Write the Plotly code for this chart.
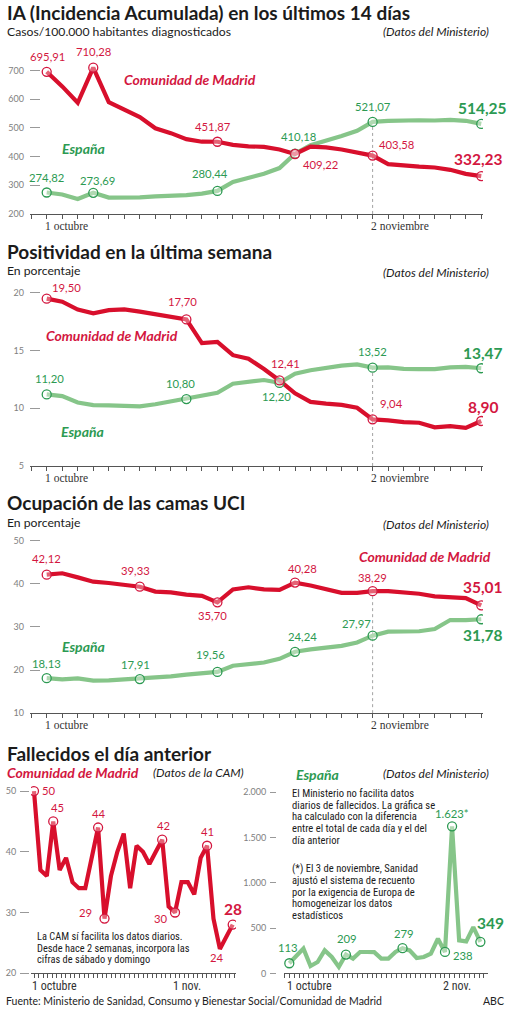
import plotly.graph_objects as go

W, H = 510, 1019

# ---------------- datos (días laborables desde el 1 de octubre) ----------------
# IA a 14 días, casos por 100.000 habitantes
ia_madrid = [695.91, 645, 588, 710.28, 590, 565, 538, 499, 482, 461, 452, 451.87, 441, 436,
             434, 425, 409.22, 435, 432, 425, 416, 403.58, 374, 368, 365, 362, 354, 340, 332.23]
ia_espana = [274.82, 268, 252, 273.69, 257, 257, 258, 261, 263, 266, 271, 280.44, 312, 325,
             340, 360, 410.18, 440, 455, 472, 490, 521.07, 525, 527, 527, 526, 528, 525, 514.25]
ia_madrid_marks = [0, 3, 11, 16, 21, 28]
ia_espana_marks = [0, 3, 11, 16, 21, 28]

# positividad en la última semana, %
pos_madrid = [19.50, 19.23, 18.55, 18.22, 18.5, 18.56, 18.37, 18.15, 18.0, 17.70, 15.65, 15.75,
              14.6, 14.3, 13.4, 12.41, 11.3, 10.55, 10.4, 10.3, 10.05, 9.04, 8.95, 8.8, 8.75,
              8.35, 8.45, 8.3, 8.90]
pos_espana = [11.20, 11.05, 10.5, 10.27, 10.26, 10.2, 10.17, 10.35, 10.62, 10.80, 11.15, 11.35,
              12.13, 12.3, 12.45, 12.20, 13.0, 13.3, 13.5, 13.7, 13.8, 13.52, 13.55, 13.42,
              13.40, 13.40, 13.55, 13.58, 13.47]
pos_madrid_marks = [0, 9, 15, 21, 28]
pos_espana_marks = [0, 9, 15, 21, 28]

# ocupación de camas UCI, %
uci_madrid = [42.12, 42.45, 41.5, 40.5, 40.2, 39.7, 39.33, 38.2, 38.0, 37.5, 37.2, 35.70, 38.7,
              39.2, 38.7, 38.6, 40.28, 39.6, 38.7, 37.9, 37.9, 38.29, 38.3, 38.1, 37.7, 37.1,
              36.9, 36.7, 35.01]
uci_espana = [18.13, 17.86, 18.05, 17.55, 17.6, 17.8, 17.91, 18.3, 18.55, 18.95, 19.3, 19.56,
              21.0, 21.3, 21.75, 22.6, 24.24, 24.8, 25.3, 25.6, 26.4, 27.97, 28.9, 29.0, 29.0,
              29.5, 31.6, 31.6, 31.78]
uci_madrid_marks = [0, 6, 11, 16, 21, 28]
uci_espana_marks = [0, 6, 11, 16, 21, 28]

# fallecidos el día anterior
fall_madrid = [50, 37, 36, 45, 37, 39, 35, 34, 34, 39, 44, 29, 36, 40, 43, 34, 41, 40, 38, 40,
               42, 31, 30, 35, 35, 33, 39, 41, 29, 24, 26, 28]
fall_espana = [113, 195, 274, 83, 127, 255, 182, 73, 209, 164, 237, 237, 235, 164, 164, 237,
               279, 255, 171, 182, 219, 383, 238, 1623, 365, 354, 511, 349]
fall_madrid_marks = [0, 3, 10, 11, 20, 22, 27, 31]
fall_espana_marks = [0, 8, 16, 22, 23, 27]

date_labels_top = ["1 octubre", "2 noviembre"]
date_idx_top = [0, 21]
date_labels_cam = ["1 octubre", "1 nov."]
date_labels_min = ["1 octubre", "2 nov."]
date_idx_bottom = [0, 22]

# ---------------- estilo ----------------
RED = "#d80f2c"
RED_TXT = "#d3173f"
GREEN = "#86c589"
GREEN_TXT = "#2c9a52"
INK = "#1b1b1b"
GREY = "#808080"
FONT = "Lato"
NARROW = "Liberation Sans Narrow, Roboto Condensed, Roboto"
SERIF = "Liberation Serif"

fig = go.Figure()


def ref(n):
    return "" if n == 1 else str(n)


def pax(p):
    return p / W


def pay(p):
    return 1 - p / H


def text(x, y, s, size, color=INK, family=FONT, anchor="left"):
    fig.add_annotation(x=pax(x), y=pay(y), xref="paper", yref="paper", text=s,
                       showarrow=False, xanchor=anchor, yanchor="middle",
                       font=dict(family=family, size=size, color=color))


def setup_axes(n, xdom, ydom, x0, xstep, ybase, ybase_px, yppu, yvals, ytext=None,
               xtick=1.0, free_pos=None, yticklen=10):
    k = ref(n)
    xr = [(xdom[0] - x0) / xstep, (xdom[1] - x0) / xstep]
    yr = [ybase + (ybase_px - ydom[1]) * 1.0 / yppu, ybase + (ybase_px - ydom[0]) / yppu]
    fig.layout["xaxis" + k] = dict(
        domain=[pax(xdom[0]), pax(xdom[1])], range=xr, anchor="y" + k,
        showline=True, linecolor="#555", linewidth=1, showgrid=False, zeroline=False,
        ticks="outside", tickmode="linear", tick0=0, dtick=xtick, ticklen=4,
        tickwidth=1, tickcolor="#555", showticklabels=False, fixedrange=True)
    yax = dict(
        domain=[pay(ydom[1]), pay(ydom[0])], range=yr, showline=False, showgrid=False,
        zeroline=False, tickmode="array", tickvals=yvals,
        ticktext=ytext if ytext else [str(v) for v in yvals],
        tickfont=dict(family=FONT, size=9, color=GREY), tickcolor="#999", tickwidth=1,
        fixedrange=True)
    if free_pos is None:
        yax.update(anchor="x" + k, ticks="inside", ticklen=yticklen, ticklabelstandoff=5)
    else:
        yax.update(anchor="free", position=pax(free_pos), ticks="outside", ticklen=yticklen,
                   ticklabelstandoff=2)
    fig.layout["yaxis" + k] = yax


def line(n, values, color):
    k = ref(n)
    fig.add_trace(go.Scatter(x=list(range(len(values))), y=values, mode="lines",
                             line=dict(color=color, width=4.2), xaxis="x" + k, yaxis="y" + k,
                             hoverinfo="skip", showlegend=False))


def marks(n, values, idx, color):
    k = ref(n)
    fig.add_trace(go.Scatter(x=idx, y=[values[i] for i in idx], mode="markers",
                             marker=dict(symbol="circle", size=9,
                                         color="rgba(255,255,255,0.35)",
                                         line=dict(color=color, width=1.3)),
                             xaxis="x" + k, yaxis="y" + k, hoverinfo="skip",
                             showlegend=False))


def guide(n, a, b, i, ymin):
    k = ref(n)
    fig.add_trace(go.Scatter(x=[i, i], y=[ymin, max(a[i], b[i])], mode="lines",
                             line=dict(color="#8a8a8a", width=0.8, dash="dot"),
                             xaxis="x" + k, yaxis="y" + k, hoverinfo="skip",
                             showlegend=False))


def fmt2(v):
    return f"{v:.2f}".replace(".", ",")


def fmt0(v):
    s = f"{int(v):,}".replace(",", ".")
    return s + "*" if v >= 1000 else s


def value_labels(n, values, spec, color, fmt):
    k = ref(n)
    for i, dx, dy, big in spec:
        fig.add_annotation(x=i, y=values[i], xref="x" + k, yref="y" + k, text=fmt(values[i]),
                           showarrow=False, xshift=dx, yshift=dy,
                           font=dict(family=FONT, size=15.5 if big else 11.3, color=color,
                                     weight="bold" if big else "normal"))


def date_labels(n, labels, idx, family, size):
    k = ref(n)
    for lab, i in zip(labels, idx):
        fig.add_annotation(x=i, y=0, xref="x" + k, yref="y" + k + " domain", text=lab,
                           showarrow=False, xanchor="left", yanchor="top", xshift=-4,
                           yshift=-4, font=dict(family=family, size=size, color="#333"))


def note(x, y0, lines, size, step):
    for j, s in enumerate(lines):
        text(x, y0 + step * j, s, size, family=NARROW)


# ---------------- panel 1: IA ----------------
setup_axes(1, (30, 483), (40, 215), 46.7, 15.52, 200, 215, 0.288, [200, 300, 400, 500, 600, 700])
guide(1, ia_madrid, ia_espana, 21, 200)
line(1, ia_espana, GREEN)
line(1, ia_madrid, RED)
marks(1, ia_espana, ia_espana_marks, GREEN_TXT)
marks(1, ia_madrid, ia_madrid_marks, RED_TXT)
value_labels(1, ia_madrid, [(0, 1, 15, False), (3, 0, 16, False), (11, -4, 15, False),
                            (16, 25, -11, False), (21, 24, 11, False), (28, -3, 17, True)],
             RED_TXT, fmt2)
value_labels(1, ia_espana, [(0, 0, 15, False), (3, 4, 12, False), (11, -7, 17, False),
                            (16, 3, 17, False), (21, 0, 15, False), (28, 1, 16, True)],
             GREEN_TXT, fmt2)
date_labels(1, date_labels_top, date_idx_top, SERIF, 11.5)
text(5, 13, "<b>IA (Incidencia Acumulada) en los últimos 14 días</b>", 19)
text(5, 32, "Casos/100.000 habitantes diagnosticados", 12.2)
text(491, 32, "<i>(Datos del Ministerio)</i>", 12, anchor="right")
text(190, 80, "<b><i>Comunidad de Madrid</i></b>", 14, RED_TXT, anchor="center")
text(83, 149, "<b><i>España</i></b>", 14, GREEN_TXT, anchor="center")

# ---------------- panel 2: positividad ----------------
setup_axes(2, (30, 483), (282, 468.3), 46.7, 15.52, 5, 468.3, 11.6, [5, 10, 15, 20])
guide(2, pos_madrid, pos_espana, 21, 5)
line(2, pos_espana, GREEN)
line(2, pos_madrid, RED)
marks(2, pos_espana, pos_espana_marks, GREEN_TXT)
marks(2, pos_madrid, pos_madrid_marks, RED_TXT)
value_labels(2, pos_madrid, [(0, 20, 11, False), (9, -4, 18, False), (15, 6, 17, False),
                             (21, 19, 16, False), (28, 2, 14, True)], RED_TXT, fmt2)
value_labels(2, pos_espana, [(0, 3, 16, False), (9, -6, 16, False), (15, -3, -14, False),
                             (21, 0, 16, False), (28, 2, 15, True)], GREEN_TXT, fmt2)
date_labels(2, date_labels_top, date_idx_top, SERIF, 11.5)
text(5, 253, "<b>Positividad en la última semana</b>", 19)
text(5, 272, "En porcentaje", 12.2)
text(491, 274, "<i>(Datos del Ministerio)</i>", 12, anchor="right")
text(112, 337, "<b><i>Comunidad de Madrid</i></b>", 14, RED_TXT, anchor="center")
text(82, 434, "<b><i>España</i></b>", 14, GREEN_TXT, anchor="center")

# ---------------- panel 3: UCI ----------------
setup_axes(3, (30, 483), (536, 716.7), 46.7, 15.52, 10, 716.7, 4.333, [10, 20, 30, 40, 50])
guide(3, uci_madrid, uci_espana, 21, 10)
line(3, uci_espana, GREEN)
line(3, uci_madrid, RED)
marks(3, uci_espana, uci_espana_marks, GREEN_TXT)
marks(3, uci_madrid, uci_madrid_marks, RED_TXT)
value_labels(3, uci_madrid, [(0, 0, 16, False), (6, -4, 16, False), (11, -5, -13, False),
                             (16, 7, 14, False), (21, 0, 14, False), (28, 2, 18, True)],
             RED_TXT, fmt2)
value_labels(3, uci_espana, [(0, 0, 15, False), (6, -4, 15, False), (11, -7, 17, False),
                             (16, 7, 15, False), (21, -16, 12, False), (28, 2, -16, True)],
             GREEN_TXT, fmt2)
date_labels(3, date_labels_top, date_idx_top, SERIF, 11.5)
text(5, 505, "<b>Ocupación de las camas UCI</b>", 19)
text(5, 525, "En porcentaje", 12.2)
text(491, 527, "<i>(Datos del Ministerio)</i>", 12, anchor="right")
text(425, 559, "<b><i>Comunidad de Madrid</i></b>", 14, RED_TXT, anchor="center")
text(83, 650, "<b><i>España</i></b>", 14, GREEN_TXT, anchor="center")

# ---------------- panel 4: fallecidos ----------------
setup_axes(4, (31, 236), (786, 978), 34, 6.41, 20, 978, 6.1, [20, 30, 40, 50],
           xtick=22 / 31, free_pos=29, yticklen=9)
line(4, fall_madrid, RED)
marks(4, fall_madrid, fall_madrid_marks, RED_TXT)
value_labels(4, fall_madrid, [(0, 15, 1, False), (3, 4, 14, False), (10, 1, 14, False),
                              (11, -19, 6, False), (20, 1, 14, False), (22, -14, -6, False),
                              (27, 0, 14, False), (29, -3, -9, False), (31, 0, 16, True)],
             RED_TXT, fmt0)
date_labels(4, date_labels_cam, date_idx_bottom, NARROW, 12)

setup_axes(5, (284, 488), (790, 978.3), 289.3, 7.077, 0, 978.3, 0.09115,
           [0, 500, 1000, 1500, 2000], ["0", "500", "1.000", "1.500", "2.000"],
           xtick=22 / 32, free_pos=276, yticklen=6)
line(5, fall_espana, GREEN)
marks(5, fall_espana, fall_espana_marks, GREEN_TXT)
value_labels(5, fall_espana, [(0, -1, 16, False), (8, 1, 16, False), (16, 1, 15, False),
                              (22, 18, -4, False), (23, 0, 13, False), (27, 10, 19, True)],
             GREEN_TXT, fmt0)
date_labels(5, date_labels_min, date_idx_bottom, NARROW, 12)

text(5, 757, "<b>Fallecidos el día anterior</b>", 19)
text(5, 776, "<b><i>Comunidad de Madrid</i></b>", 14, RED_TXT)
text(151, 776, "<i>(Datos de la CAM)</i>", 12)
text(294, 778, "<b><i>España</i></b>", 14, GREEN_TXT)
text(491, 777, "<i>(Datos del Ministerio)</i>", 12, anchor="right")

note(35, 941, ["La CAM sí facilita los datos diarios.",
               "Desde hace 2 semanas, incorpora las",
               "cifras de sábado y domingo"], 10.4, 11.7)
note(290, 797, ["El Ministerio no facilita datos",
                "diarios de fallecidos. La gráfica se",
                "ha calculado con la diferencia",
                "entre el total de cada día y el del",
                "día anterior"], 10.6, 12)
note(290, 873, ["(*) El 3 de noviembre, Sanidad",
                "ajustó el sistema de recuento",
                "por la exigencia de Europa de",
                "homogeneizar los datos",
                "estadísticos"], 10.6, 11.8)

text(4, 1006, "Fuente: Ministerio de Sanidad, Consumo y Bienestar Social/Comunidad de Madrid",
     10.5, color="#222")
text(506, 1006, "ABC", 10.5, color="#222", anchor="right")

fig.update_layout(width=W, height=H, margin=dict(l=0, r=0, t=0, b=0), autosize=False,
                  paper_bgcolor="white", plot_bgcolor="white", showlegend=False)

fig.write_html("out.html", config={"displayModeBar": False},
               post_script="document.body.style.margin='0';")
